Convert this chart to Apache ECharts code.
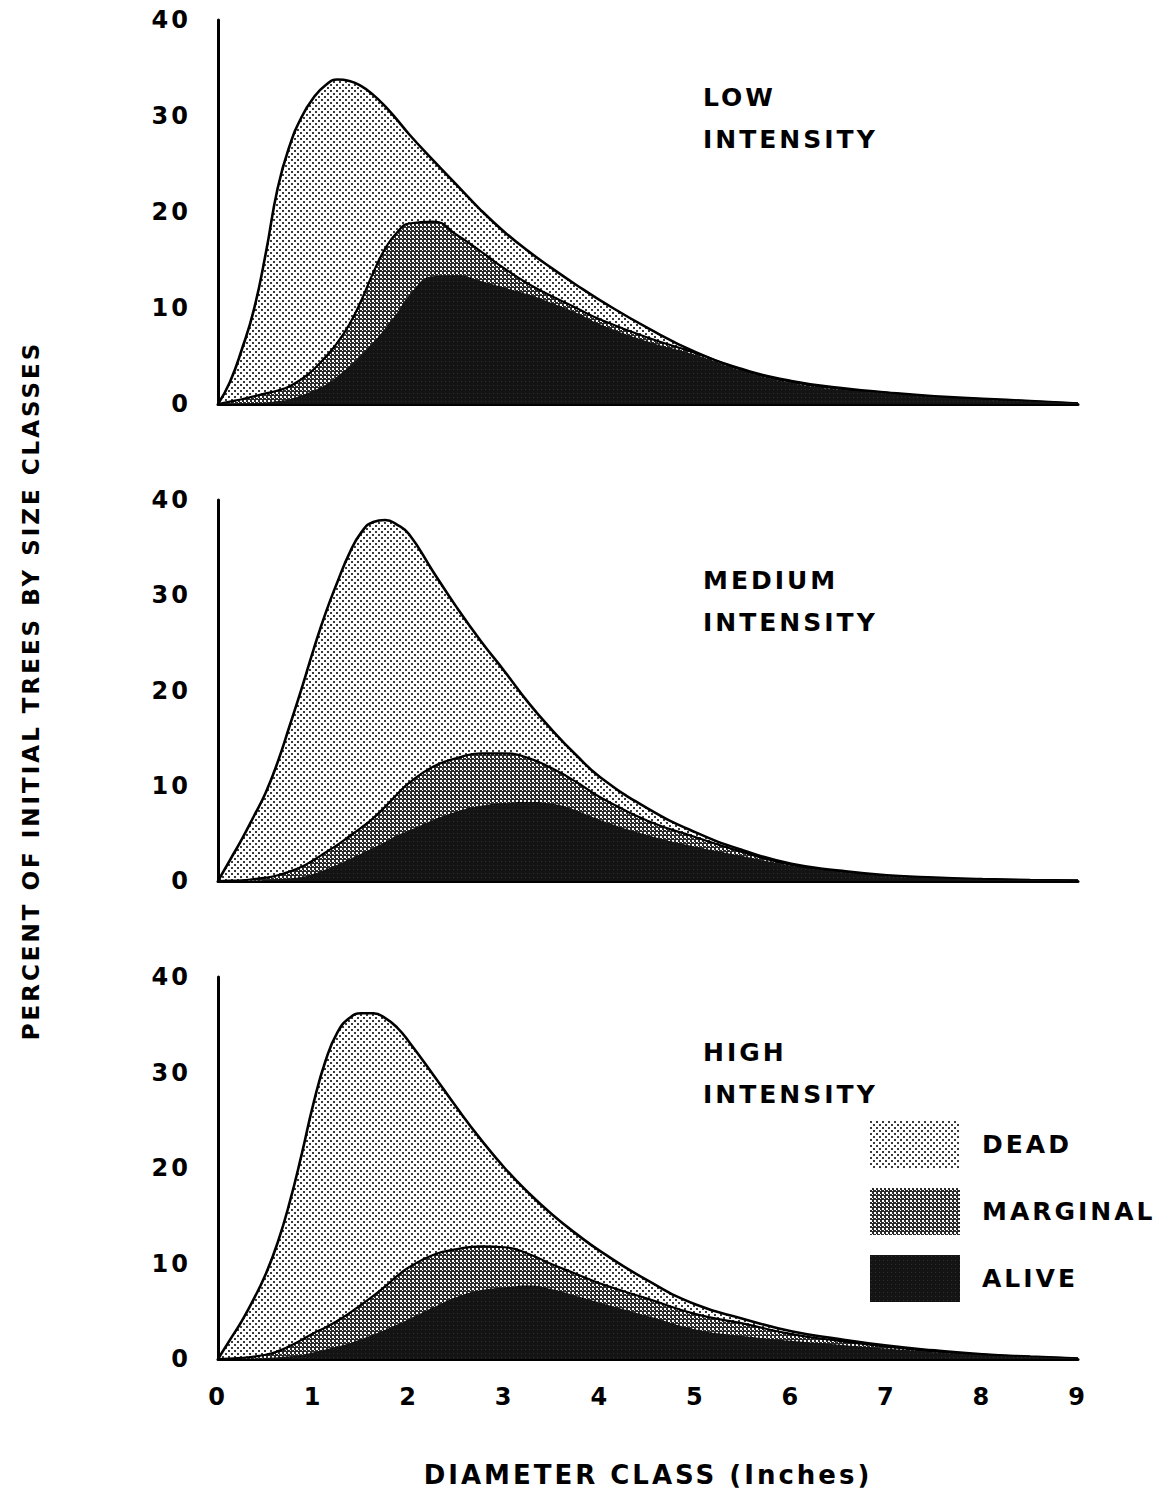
<!DOCTYPE html>
<html>
<head>
<meta charset="utf-8">
<script src="https://cdn.jsdelivr.net/npm/echarts@6/dist/echarts.min.js"></script>
<style>
  html, body { margin: 0; padding: 0; background: #fff; }
  #chart { width: 1164px; height: 1498px; letter-spacing: 3px; }
</style>
</head>
<body>
<div id="chart"></div>
<script>
// ---- data (percent of initial trees by size class; cumulative envelopes) ----
var diameter = [0, 0.125, 0.25, 0.375, 0.5, 0.625, 0.75, 0.875, 1, 1.125, 1.25, 1.375, 1.5, 1.625, 1.75, 1.875, 2,
                2.25, 2.5, 2.75, 3, 3.25, 3.5, 3.75, 4, 4.5, 5, 5.5, 6, 6.5, 7, 7.5, 8, 8.5, 9];

// LOW intensity
var lowDead     = [0, 2.3, 5.7, 9.8, 15.7, 22.5, 26.9, 29.9, 31.9, 33.2, 33.8, 33.65, 33.1, 32.2, 31.0, 29.6, 28.1,
                   25.4, 22.8, 20.2, 17.9, 15.9, 14.1, 12.4, 10.8, 7.9, 5.4, 3.6, 2.4, 1.7, 1.2, 0.8, 0.55, 0.3, 0.05];
var lowMarginal = [0, 0.25, 0.5, 0.8, 1.1, 1.4, 1.85, 2.6, 3.6, 4.9, 6.4, 8.3, 10.8, 13.7, 16.2, 17.9, 18.8,
                   19.0, 17.6, 15.9, 14.1, 12.5, 11.2, 10.0, 8.8, 6.9, 5.3, 3.5, 2.3, 1.6, 1.15, 0.75, 0.5, 0.28, 0.05];
var lowAlive    = [0, 0.02, 0.05, 0.1, 0.15, 0.3, 0.5, 0.9, 1.4, 2.0, 2.9, 3.9, 5.1, 6.4, 7.9, 9.5, 11.3,
                   13.3, 13.4, 12.8, 12.1, 11.4, 10.5, 9.5, 8.3, 6.5, 5.1, 3.4, 2.2, 1.5, 1.1, 0.7, 0.45, 0.25, 0.05];

// MEDIUM intensity
var medDead     = [0, 2.2, 4.4, 6.8, 9.3, 12.5, 16.3, 20.2, 24.3, 28.1, 31.4, 34.4, 36.6, 37.7, 37.9, 37.4, 36.4,
                   32.5, 28.7, 25.2, 22.0, 18.7, 15.8, 13.2, 10.9, 7.6, 5.1, 3.2, 1.8, 1.1, 0.6, 0.35, 0.2, 0.1, 0.05];
var medMarginal = [0, 0.03, 0.08, 0.2, 0.35, 0.6, 1.0, 1.5, 2.2, 3.0, 3.8, 4.7, 5.6, 6.6, 7.8, 9.1, 10.3,
                   12.0, 12.9, 13.4, 13.4, 12.9, 11.8, 10.4, 8.8, 6.3, 4.6, 3.0, 1.7, 1.0, 0.55, 0.3, 0.15, 0.08, 0.03];
var medAlive    = [0, 0, 0.02, 0.05, 0.1, 0.18, 0.28, 0.42, 0.75, 1.2, 1.7, 2.3, 2.9, 3.5, 4.1, 4.8, 5.3,
                   6.4, 7.3, 7.9, 8.2, 8.3, 8.1, 7.4, 6.4, 4.8, 3.6, 2.6, 1.6, 0.95, 0.5, 0.28, 0.14, 0.07, 0.02];

// HIGH intensity
var highDead     = [0, 2.0, 4.0, 6.3, 8.9, 12.2, 16.4, 21.4, 26.8, 31.2, 34.2, 35.7, 36.2, 36.2, 35.7, 34.7, 33.2,
                    29.8, 26.3, 23.0, 20.0, 17.4, 15.1, 13.1, 11.3, 8.2, 5.7, 4.2, 2.9, 2.1, 1.4, 0.9, 0.5, 0.25, 0.05];
var highMarginal = [0, 0.05, 0.12, 0.25, 0.45, 0.8, 1.35, 2.0, 2.7, 3.3, 4.0, 4.8, 5.7, 6.6, 7.6, 8.7, 9.6,
                    10.9, 11.5, 11.8, 11.7, 11.0, 9.9, 8.9, 7.9, 6.3, 4.7, 3.7, 2.6, 1.9, 1.3, 0.8, 0.45, 0.22, 0.04];
var highAlive    = [0, 0, 0.02, 0.05, 0.1, 0.18, 0.28, 0.42, 0.7, 1.0, 1.3, 1.65, 2.1, 2.55, 3.05, 3.6, 4.2,
                    5.4, 6.5, 7.2, 7.5, 7.7, 7.3, 6.6, 5.9, 4.5, 3.1, 2.4, 1.9, 1.5, 1.1, 0.7, 0.4, 0.2, 0.04];

var panelNames = ['LOW\nINTENSITY', 'MEDIUM\nINTENSITY', 'HIGH\nINTENSITY'];
var classNames = ['DEAD', 'MARGINAL', 'ALIVE'];
var yTicks = [0, 10, 20, 30, 40];
var xTicks = [0, 1, 2, 3, 4, 5, 6, 7, 8, 9];

var panels = [
  [lowDead, lowMarginal, lowAlive],
  [medDead, medMarginal, medAlive],
  [highDead, highMarginal, highAlive]
];

// ---- fill patterns ----
function makePattern(size, bg, fg, dots) {
  var c = document.createElement('canvas');
  c.width = size; c.height = size;
  var g = c.getContext('2d');
  g.fillStyle = bg; g.fillRect(0, 0, size, size);
  g.fillStyle = fg;
  dots.forEach(function (d) { g.fillRect(d[0], d[1], d[2], d[3]); });
  return { image: c, repeat: 'repeat' };
}
var deadFill = makePattern(6, '#ffffff', '#3a3a3a', [[0, 0, 2, 2], [3, 3, 2, 2]]);
var margFill = makePattern(4, '#2a2a2a', '#ffffff', [[0, 0, 2, 2], [2, 2, 1, 1]]);
var aliveFill = makePattern(4, '#141414', '#2e2e2e', [[1, 1, 1, 1]]);
var fills = [deadFill, margFill, aliveFill];

function pairs(ys) { return diameter.map(function (x, i) { return [x, ys[i]]; }); }

var FONT = '"DejaVu Sans", sans-serif';
var gridTops = [20, 500, 977];
var gridHeights = [384, 381, 382];

var grids = [], xAxes = [], yAxes = [], series = [], titles = [];
var titleTops = [76, 559, 1031];

for (var p = 0; p < 3; p++) {
  grids.push({ left: 218, width: 860, top: gridTops[p], height: gridHeights[p] });
  xAxes.push({
    type: 'value', gridIndex: p, min: 0, max: 9, interval: 1,
    axisLine: { show: true, lineStyle: { color: '#000', width: 3 } },
    axisTick: { show: false }, splitLine: { show: false },
    axisLabel: {
      show: p === 2, color: '#000', fontFamily: FONT, fontWeight: 'bold', fontSize: 24, margin: 26,
      formatter: function (v) { return xTicks.indexOf(v) >= 0 ? String(v) : ''; }
    },
    name: p === 2 ? 'DIAMETER CLASS (Inches)' : '',
    nameLocation: 'middle', nameGap: 103,
    nameTextStyle: { color: '#000', fontFamily: FONT, fontWeight: 'bold', fontSize: 26 }
  });
  yAxes.push({
    type: 'value', gridIndex: p, min: 0, max: 40, interval: 10,
    axisLine: { show: true, lineStyle: { color: '#000', width: 3 } },
    axisTick: { show: false }, splitLine: { show: false },
    axisLabel: {
      color: '#000', fontFamily: FONT, fontWeight: 'bold', fontSize: 24, margin: 27,
      formatter: function (v) { return yTicks.indexOf(v) >= 0 ? String(v) : ''; }
    },
    name: p === 1 ? 'PERCENT OF INITIAL TREES BY SIZE CLASSES' : '',
    nameLocation: 'middle', nameGap: 176,
    nameTextStyle: { color: '#000', fontFamily: FONT, fontWeight: 'bold', fontSize: 23 }
  });
  for (var s = 0; s < 3; s++) {
    series.push({
      type: 'line', name: classNames[s], xAxisIndex: p, yAxisIndex: p,
      data: pairs(panels[p][s]), smooth: 0.5, symbol: 'none', silent: true,
      lineStyle: { color: '#000', width: s === 2 ? 0 : (s === 0 ? 2.6 : 2.2) },
      itemStyle: { color: s === 2 ? '#141414' : '#000' },
      areaStyle: { color: fills[s], opacity: 1, origin: 'start' },
      z: 2 + s
    });
  }
  titles.push({
    text: panelNames[p], left: 703, top: titleTops[p], padding: 0,
    textStyle: { color: '#000', fontFamily: FONT, fontWeight: 'bold', fontSize: 25, lineHeight: 42 }
  });
}

var chart = echarts.init(document.getElementById('chart'), null, { renderer: 'svg', width: 1164, height: 1498 });
chart.setOption({
  animation: false,
  backgroundColor: '#fff',
  title: titles,
  grid: grids,
  xAxis: xAxes,
  yAxis: yAxes,
  legend: {
    orient: 'vertical', left: 870, top: 1121, padding: 0,
    itemWidth: 90, itemHeight: 47, itemGap: 20,
    selectedMode: false,
    textStyle: { color: '#000', fontFamily: FONT, fontWeight: 'bold', fontSize: 25, padding: [0, 0, 0, 17] },
    data: classNames.map(function (n, i) {
      return { name: n, icon: 'rect', itemStyle: { color: fills[i], borderWidth: 0 }, lineStyle: { width: 0 } };
    })
  },
  series: series
});
</script>
</body>
</html>
